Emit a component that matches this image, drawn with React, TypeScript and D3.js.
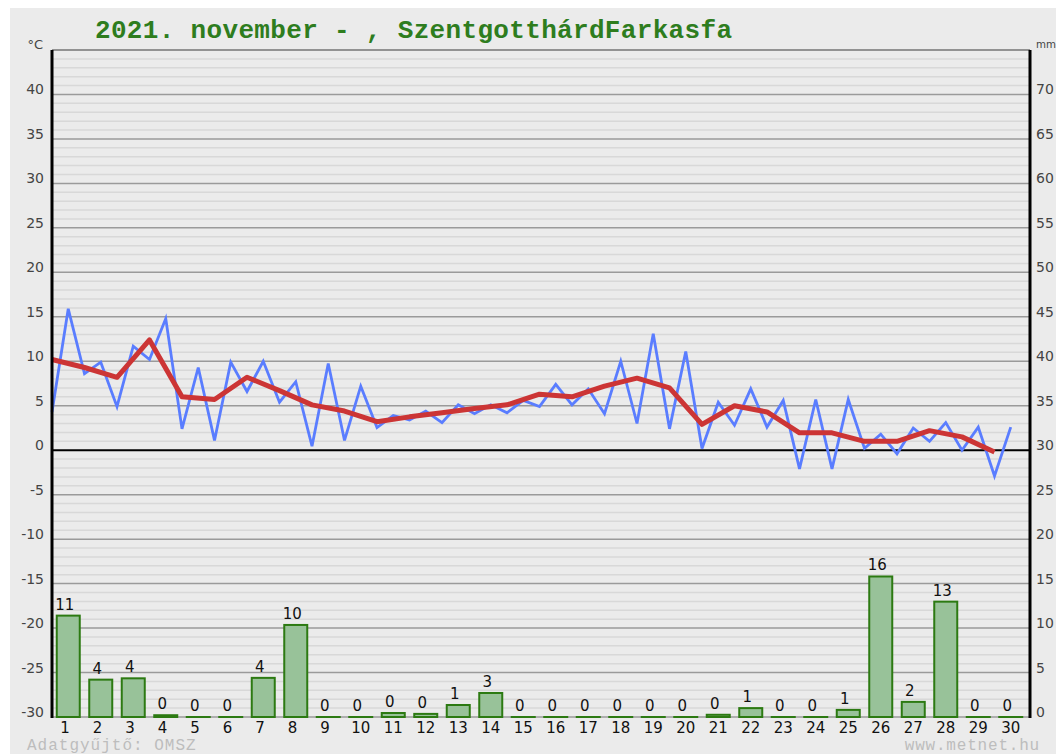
import React from 'react';
import * as d3 from 'd3';

// napok
const days = d3.range(1, 31);

// napi középhőmérséklet (°C)
const meanTemp = [
  10.2, 9.3, 8.2, 12.4, 6.0, 5.7, 8.2, 6.7, 5.1, 4.4,
  3.2, 3.75, 4.2, 4.7, 5.1, 6.3, 6.0, 7.2, 8.1, 7.0,
  2.9, 5.0, 4.3, 1.95, 1.95, 1.0, 1.0, 2.2, 1.5, -0.2,
];

// félnapos hőmérséklet értékek (°C)
const halfDayTemp = [
  4.3, 15.9, 8.6, 9.9, 4.9, 11.7, 10.2, 14.8, 2.4, 9.3,
  1.1, 9.9, 6.6, 10.0, 5.4, 7.7, 0.45, 9.75, 1.1, 7.2,
  2.55, 3.9, 3.4, 4.4, 3.1, 5.1, 4.1, 5.1, 4.2, 5.6,
  4.9, 7.4, 5.1, 6.9, 4.1, 10.0, 3.0, 13.1, 2.4, 11.1,
  0.2, 5.4, 2.8, 6.9, 2.6, 5.6, -2.1, 5.7, -2.1, 5.7,
  0.2, 1.8, -0.4, 2.5, 1.0, 3.1, 0.0, 2.6, -2.9, 2.6,
];

// csapadék (mm)
const precip = [
  11.4, 4.2, 4.35, 0.2, 0, 0, 4.4, 10.35, 0, 0,
  0.45, 0.35, 1.35, 2.7, 0, 0, 0, 0, 0, 0,
  0.25, 1.0, 0, 0, 0.8, 15.8, 1.7, 12.97, 0, 0,
];

const tempTicks = d3.range(-30, 41, 5);
const mmTicks = d3.range(0, 71, 5);

const W = 1056;
const H = 754;
const left = 52;
const right = 1030;
const top = 50;
const bottom = 717;

const numFont = '"DejaVu Sans", sans-serif';
const monoFont = '"Liberation Mono", "DejaVu Sans Mono", monospace';

export default function App() {
  const y = d3.scaleLinear().domain([-30, 45]).range([bottom, top]);
  const yMm = d3.scaleLinear().domain([0, 75]).range([bottom, top]);
  const xBand = d3.scaleBand<number>().domain(days).range([left, 1027]).padding(0);
  const xHalf = d3.scaleLinear().domain([0, 60]).range([left, 1027]);
  const barW = 23;

  const redLine = d3.line<number>()
    .x((d, i) => xBand(days[i]) as number)
    .y(d => y(d));
  const blueLine = d3.line<number>()
    .x((d, i) => xHalf(i))
    .y(d => y(d));

  const minor = d3.range(-30, 46, 1).filter(v => v % 5 !== 0);
  const major = d3.range(-30, 46, 5).filter(v => v !== 0);

  return (
    <div style={{ position: 'absolute', left: 0, top: 0 }}>
      <svg width={W} height={H} style={{ display: 'block', background: '#fff' }}>
        <rect x={10} y={8} width={W - 10} height={H - 8} fill="#ebebeb" />

        {/* rácsvonalak */}
        {minor.map(v => (
          <line key={'mi' + v} x1={left} x2={right} y1={y(v)} y2={y(v)} stroke="#d8d8d8" strokeWidth={1.5} />
        ))}
        {major.map(v => (
          <line key={'ma' + v} x1={left} x2={right} y1={y(v)} y2={y(v)} stroke="#9a9a9a" strokeWidth={1.5} />
        ))}
        <line x1={left} x2={right} y1={y(0)} y2={y(0)} stroke="#000" strokeWidth={2} />

        {/* csapadék oszlopok */}
        {precip.map((v, i) => {
          const cx = (xBand(days[i]) as number) + xBand.bandwidth() / 2;
          const h = yMm(0) - yMm(v);
          return (
            <g key={'b' + i}>
              <rect x={cx - barW / 2} y={yMm(v)} width={barW} height={Math.max(h, 0.01)}
                fill="#98c299" stroke="#2c7a12" strokeWidth={2} />
              <text x={cx - 3.5} y={yMm(v) - 6} textAnchor="middle" fontFamily={numFont}
                fontSize={15} fill="#111">{Math.round(v)}</text>
            </g>
          );
        })}

        {/* hőmérséklet */}
        <path d={blueLine(halfDayTemp) || ''} fill="none" stroke="#5a7dff" strokeWidth={2.8} strokeLinejoin="miter" />
        <path d={redLine(meanTemp) || ''} fill="none" stroke="#cc3535" strokeWidth={5} strokeLinejoin="round" />

        {/* tengelyek */}
        <line x1={left} x2={right} y1={top} y2={top} stroke="#888" strokeWidth={1.5} />
        <line x1={left} x2={left} y1={top} y2={bottom + 1} stroke="#000" strokeWidth={3} />
        <line x1={right} x2={right} y1={top} y2={bottom + 1} stroke="#000" strokeWidth={3} />

        {tempTicks.map(v => (
          <text key={'tl' + v} x={44} y={y(v)} textAnchor="end" fontFamily={numFont} fontSize={14} fill="#444">{v}</text>
        ))}
        {mmTicks.map(v => (
          <text key={'tr' + v} x={1036} y={yMm(v)} fontFamily={numFont} fontSize={14} fill="#444">{v}</text>
        ))}
        <text x={43} y={49} textAnchor="end" fontFamily={numFont} fontSize={13} fill="#444">°C</text>
        <text x={1036} y={48} fontFamily={numFont} fontSize={10} fill="#444" textLength={20} lengthAdjust="spacingAndGlyphs">mm</text>

        {days.map(d => {
          const cx = (xBand(d) as number) + xBand.bandwidth() / 2;
          return (
            <text key={'x' + d} x={d < 10 ? cx - 8 : cx} y={733} textAnchor={d < 10 ? 'start' : 'middle'}
              fontFamily={numFont} fontSize={15} fill="#111">{d}</text>
          );
        })}

        {/* cím */}
        <text x={95} y={38} fontFamily={monoFont} fontSize={26} fontWeight="bold" fill="#2e7d1e"
          textLength={637} lengthAdjust="spacing">
          2021. november - , SzentgotthárdFarkasfa
        </text>

        <text x={27} y={750} fontFamily={monoFont} fontSize={16} letterSpacing={1} fill="#bdbdbd">Adatgyűjtő: OMSZ</text>
        <text x={1040} y={750} textAnchor="end" fontFamily={monoFont} fontSize={16} letterSpacing={0.8} fill="#bdbdbd">www.metnet.hu</text>
      </svg>
    </div>
  );
}
